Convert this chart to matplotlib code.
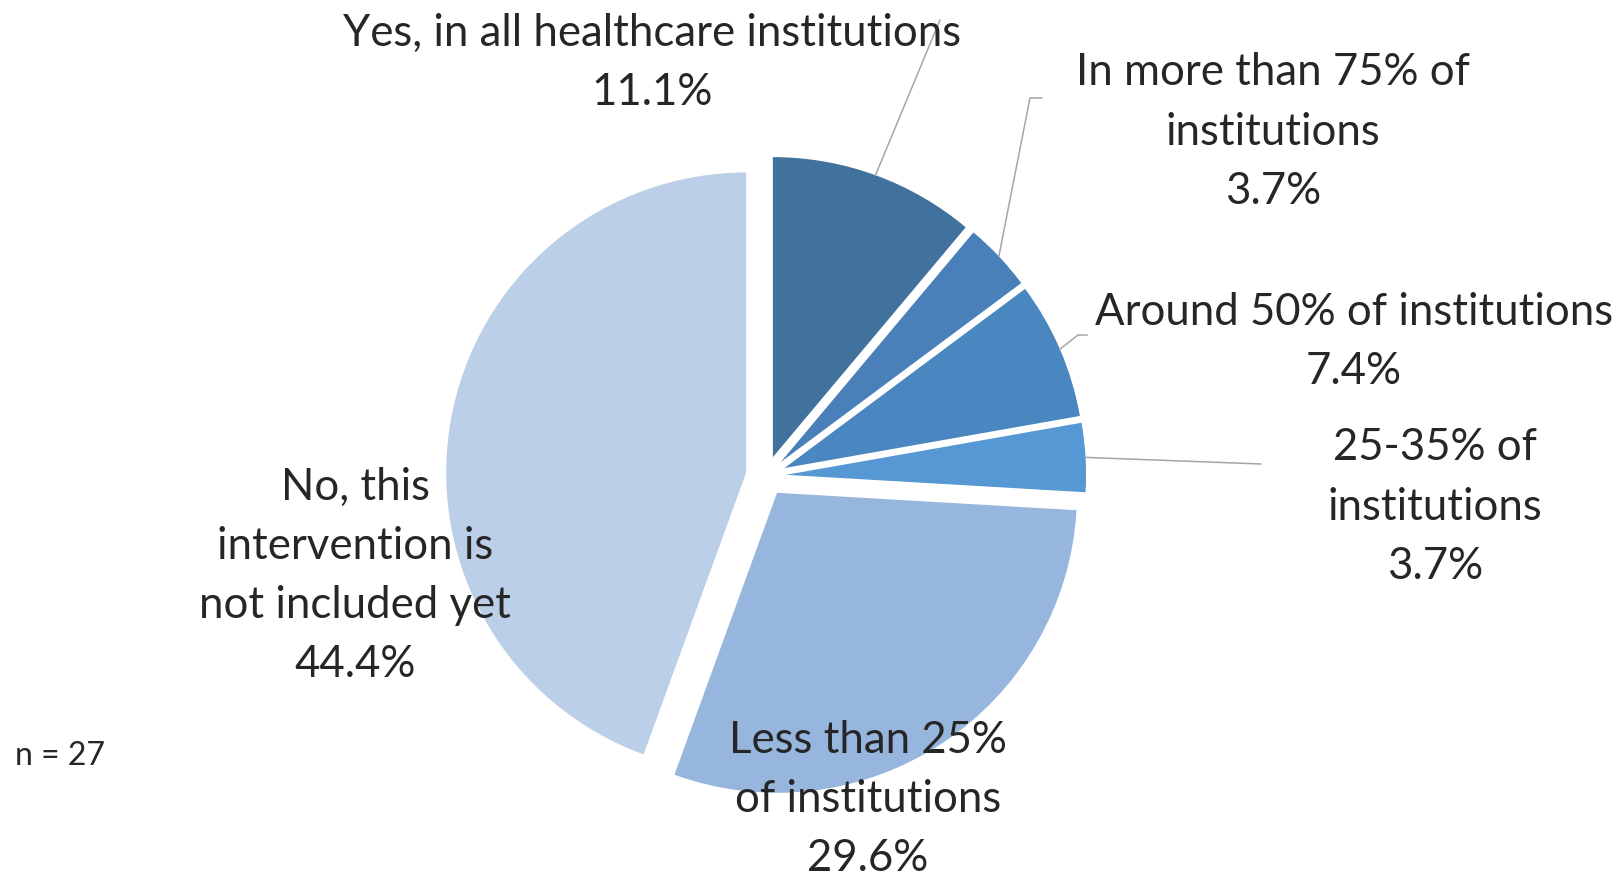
import numpy as np
import matplotlib.pyplot as plt

categories = [
    "Yes, in all healthcare institutions",
    "In more than 75% of\ninstitutions",
    "Around 50% of institutions",
    "25-35% of\ninstitutions",
    "Less than 25%\nof institutions",
    "No, this\nintervention is\nnot included yet",
]
shares = [11.1, 3.7, 7.4, 3.7, 29.6, 44.4]
colors = ["#41719d", "#4a80ba", "#4a86bf", "#5698d3", "#96b6de", "#bccfe8"]

# label centres and leader-line elbows, in pie-radius units
label_pos = [(-0.38, 1.38), (1.69, 1.15), (1.96, 0.45), (2.23, -0.10),
             (0.34, -1.075), (-1.37, -0.33)]
leader_pts = [
    [(0.58, 1.52)],
    [(0.88, 1.26), (0.92, 1.26)],
    [(1.04, 0.47), (1.07, 0.47)],
    [(1.65, 0.04)],
    None,
    None,
]

explode = 0.067
plt.rcParams["font.family"] = ["Lato", "DejaVu Sans"]

fig = plt.figure(figsize=(16.19, 8.78), dpi=100)
ax = fig.add_axes([0, 0, 1, 1])
wedges, _ = ax.pie(shares, colors=colors, startangle=90, counterclock=False,
                   explode=[explode] * len(shares), radius=1.0,
                   wedgeprops=dict(linewidth=0))
ax.set_xlim(-766 / 300, (1619 - 766) / 300)
ax.set_ylim(-401 / 300, 477 / 300)
ax.set_aspect("equal")
ax.axis("off")

for i, (w, lab, val) in enumerate(zip(wedges, categories, shares)):
    mid = np.deg2rad((w.theta1 + w.theta2) / 2)
    cx, cy = w.center
    if leader_pts[i] is not None:
        xs = [cx + np.cos(mid)] + [p[0] for p in leader_pts[i]]
        ys = [cy + np.sin(mid)] + [p[1] for p in leader_pts[i]]
        ax.plot(xs, ys, color="#a6a6a6", lw=1.1)
    x, y = label_pos[i]
    ax.text(x, y, f"{lab}\n{val:.1f}%", ha="center", va="center",
            fontsize=31.5, color="#262626", linespacing=1.55)

fig.text(15 / 1619, 1 - 756 / 878, "n = 27", ha="left", va="center",
         fontsize=23, color="#262626")

fig.savefig("out.png", dpi=100)
